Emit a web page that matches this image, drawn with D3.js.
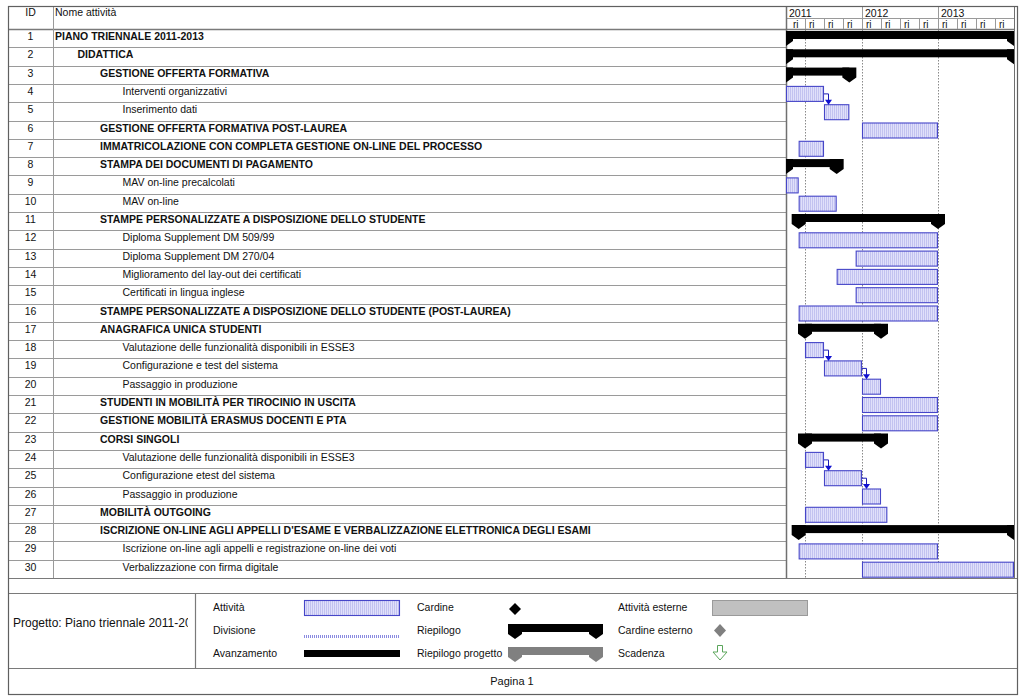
<!DOCTYPE html>
<html><head><meta charset="utf-8">
<script src="https://cdn.jsdelivr.net/npm/d3@7"></script>
<style>
body{margin:0;background:#fff}
svg{display:block}
text{font-family:"Liberation Sans",Arial,sans-serif;fill:#111}
</style>
</head><body>
<svg id="c" width="1024" height="700"></svg>
<script>
// ---------------- DATA ----------------
const taskIds = d3.range(1, 31);
const taskNames = [
  "PIANO TRIENNALE 2011-2013",
  "DIDATTICA",
  "GESTIONE OFFERTA FORMATIVA",
  "Interventi organizzativi",
  "Inserimento dati",
  "GESTIONE OFFERTA FORMATIVA POST-LAUREA",
  "IMMATRICOLAZIONE CON COMPLETA GESTIONE ON-LINE DEL PROCESSO",
  "STAMPA DEI DOCUMENTI DI PAGAMENTO",
  "MAV on-line precalcolati",
  "MAV on-line",
  "STAMPE PERSONALIZZATE A DISPOSIZIONE DELLO STUDENTE",
  "Diploma Supplement DM 509/99",
  "Diploma Supplement DM 270/04",
  "Miglioramento del lay-out dei certificati",
  "Certificati in lingua inglese",
  "STAMPE PERSONALIZZATE A DISPOSIZIONE DELLO STUDENTE (POST-LAUREA)",
  "ANAGRAFICA UNICA STUDENTI",
  "Valutazione delle funzionalità disponibili in ESSE3",
  "Configurazione e test del sistema",
  "Passaggio in produzione",
  "STUDENTI IN MOBILITÀ PER TIROCINIO IN USCITA",
  "GESTIONE MOBILITÀ ERASMUS DOCENTI E PTA",
  "CORSI SINGOLI",
  "Valutazione delle funzionalità disponibili in ESSE3",
  "Configurazione etest del sistema",
  "Passaggio in produzione",
  "MOBILITÀ OUTGOING",
  "ISCRIZIONE ON-LINE AGLI APPELLI D'ESAME E VERBALIZZAZIONE ELETTRONICA DEGLI ESAMI",
  "Iscrizione on-line agli appelli e registrazione on-line dei voti",
  "Verbalizzazione con firma digitale"
];
const taskLevels = [0,1,2,3,3,2,2,2,3,3,2,3,3,3,3,2,2,3,3,3,2,2,2,3,3,3,2,2,3,3];
// S = summary (riepilogo), T = task (attività)
const taskTypes = ["S","S","S","T","T","T","T","S","T","T","S","T","T","T","T","T","S","T","T","T","T","T","S","T","T","T","T","S","T","T"];
// months from January 2011
const taskStart = [0,0,0,0,6,12,2,0,0,2,2,2,11,8,11,2,3,3,6,12,12,12,3,3,6,12,3,2,2,12];
const taskEnd   = [36,36,10,6,10,24,6,8,2,8,24,24,24,24,24,24,15,6,12,15,24,24,15,6,12,15,16,36,24,36];
const links = [[4,5],[18,19],[19,20],[24,25],[25,26]];
const yearLabels = ["2011","2012","2013"];
const yearStartMonths = [0,12,24];
const quarterLabels = ["ri","ri","ri","ri","ri","ri","ri","ri","ri","ri","ri","ri"];
const quarterStartMonths = [0,3,6,9,12,15,18,21,24,27,30,33];
const markerMonths = [3,12,24];

// ---------------- LAYOUT ----------------
const svg = d3.select("#c");
const L = 8, R = 1017, T = 6, B = 694;
const idR = 53, tlL = 786, tlR = 1014;
const headB = 29, tableB = 578, legT = 593, legB = 668;
const lineC = "#9a9a9a", frameC = "#606060";

const x = d3.scaleLinear().domain([0, 36]).range([tlL, tlR]);
const y = d3.scaleBand().domain(taskIds).range([headB, tableB]);
const rh = y.bandwidth();

const defs = svg.append("defs");
const pat = defs.append("pattern").attr("id","hatch").attr("patternUnits","userSpaceOnUse")
  .attr("width",2).attr("height",4);
pat.append("rect").attr("width",2).attr("height",4).attr("fill","#e0e0fa");
pat.append("rect").attr("width",1).attr("height",4).attr("fill","#c2c2f0");
const pd = defs.append("pattern").attr("id","hatchd").attr("patternUnits","userSpaceOnUse").attr("width",2).attr("height",4);
pd.append("rect").attr("width",1).attr("height",4).attr("fill","#8a8ae0");
defs.append("clipPath").attr("id","tlclip").append("rect")
  .attr("x",tlL).attr("y",headB).attr("width",tlR-tlL).attr("height",tableB-headB);
defs.append("clipPath").attr("id","projclip").append("rect")
  .attr("x",L).attr("y",legT).attr("width",188-L).attr("height",legB-legT);

svg.append("rect").attr("width",1024).attr("height",700).attr("fill","#fff");

function hline(x1,x2,yy,c,w){svg.append("line").attr("x1",x1).attr("x2",x2).attr("y1",yy).attr("y2",yy).attr("stroke",c||lineC).attr("stroke-width",w||1);}
function vline(xx,y1,y2,c,w){svg.append("line").attr("x1",xx).attr("x2",xx).attr("y1",y1).attr("y2",y2).attr("stroke",c||lineC).attr("stroke-width",w||1);}

// row lines
taskIds.forEach(id => hline(L, tlL, Math.round(y(id)+rh)+0.5));
hline(L, tlR, headB+0.5, "#7a7a7a", 1.5);
// header year/quarter
hline(tlL, tlR, 18.5);
yearStartMonths.forEach(m => vline(Math.round(x(m))+0.5, T, headB));
quarterStartMonths.forEach(m => vline(Math.round(x(m))+0.5, 18, headB));
vline(idR+0.5, T, tableB);
vline(tlL+0.5, T, tableB, "#707070", 1.5);
vline(tlR+0.5, T, tableB, "#707070", 1);
hline(L, R, tableB+0.5, "#7a7a7a", 1.2);
hline(L, R, legT+0.5, "#7a7a7a", 1.2);
hline(L, R, legB+0.5, "#7a7a7a", 1.2);
vline(195.5, legT, legB, "#7a7a7a", 1.2);
// outer frame
svg.append("rect").attr("x",L+0.5).attr("y",T+0.5).attr("width",R-L).attr("height",B-T)
  .attr("fill","none").attr("stroke",frameC).attr("stroke-width",1.2);

// header text
svg.append("text").attr("x",30.5).attr("y",16).attr("text-anchor","middle").attr("font-size",10.5).text("ID");
svg.append("text").attr("x",55).attr("y",16).attr("font-size",10.5).text("Nome attività");
svg.selectAll(".yl").data(yearLabels).enter().append("text")
  .attr("x",(d,i)=>x(yearStartMonths[i])+3).attr("y",16.5).attr("font-size",10.5).text(d=>d);
svg.selectAll(".ql").data(quarterLabels).enter().append("text")
  .attr("x",(d,i)=>x(quarterStartMonths[i])+(i===0?7:4)).attr("y",27.5).attr("font-size",10).text(d=>d);

// row texts
svg.selectAll(".idt").data(taskIds).enter().append("text")
  .attr("x",30.5).attr("y",d=>y(d)+11).attr("text-anchor","middle").attr("font-size",10.5).text(d=>d);
svg.selectAll(".nt").data(taskIds).enter().append("text")
  .attr("x",d=>55+22.5*taskLevels[d-1]).attr("y",d=>y(d)+11).attr("font-size",10.5)
  .attr("font-weight",d=>taskLevels[d-1]<3?"bold":"normal").text(d=>taskNames[d-1]);

// dotted marker lines
svg.selectAll(".mk").data(markerMonths).enter().append("line")
  .attr("x1",d=>Math.round(x(d))+0.5).attr("x2",d=>Math.round(x(d))+0.5)
  .attr("y1",headB+1).attr("y2",tableB).attr("stroke","#8a8a8a").attr("stroke-dasharray","1.5,1.5");

// bars
const g = svg.append("g").attr("clip-path","url(#tlclip)");
function capPts(cx, top){
  return [[cx-7,top+2],[cx+7,top+2],[cx+7,top+12],[cx,top+17],[cx-7,top+12]].map(p=>p.join(",")).join(" ");
}
function summary(gg, x0, x1, top, col){
  gg.append("rect").attr("x",x0).attr("y",top+2).attr("width",x1-x0).attr("height",8).attr("fill",col);
  gg.append("polygon").attr("points",capPts(x0,top)).attr("fill",col);
  gg.append("polygon").attr("points",capPts(x1,top)).attr("fill",col);
}
taskIds.forEach(id => {
  const i = id-1, top = y(id);
  if (taskTypes[i] === "S") {
    summary(g, x(taskStart[i]), x(taskEnd[i]), top, "#000");
  } else {
    g.append("rect").attr("x",x(taskStart[i])+0.5).attr("y",top+2.5)
      .attr("width",x(taskEnd[i])-x(taskStart[i])-1).attr("height",15)
      .attr("fill","url(#hatch)").attr("stroke","#4646c8").attr("stroke-width",1.1);
  }
});
// dependency links
links.forEach(([a,b]) => {
  const xa = x(taskEnd[a-1]), ya = y(a)+10;
  const xb = xa+4.5, yb = y(b)+2.5;
  g.append("path").attr("d",`M${xa},${ya}H${xb}V${yb-4}`).attr("fill","none")
    .attr("stroke","#1c1cb4").attr("stroke-width",1);
  g.append("polygon").attr("points",`${xb-3.5},${yb-5} ${xb+3.5},${yb-5} ${xb},${yb}`).attr("fill","#1010d0");
});

// ---------------- LEGEND ----------------
svg.append("text").attr("x",13).attr("y",627).attr("font-size",12)
  .attr("clip-path","url(#projclip)").text("Progetto: Piano triennale 2011-2013");
const legLabels1 = ["Attività","Divisione","Avanzamento"];
const legLabels2 = ["Cardine","Riepilogo","Riepilogo progetto"];
const legLabels3 = ["Attività esterne","Cardine esterno","Scadenza"];
const legRowsY = [611, 634, 657];
[[legLabels1,213],[legLabels2,417],[legLabels3,618]].forEach(([labs,lx]) => {
  labs.forEach((t,i)=> svg.append("text").attr("x",lx).attr("y",legRowsY[i]).attr("font-size",10.5).text(t));
});
// col 1 symbols
svg.append("rect").attr("x",304.5).attr("y",600.5).attr("width",95).attr("height",15)
  .attr("fill","url(#hatch)").attr("stroke","#4646c8").attr("stroke-width",1.1);
svg.append("rect").attr("x",304).attr("y",635).attr("width",96).attr("height",3).attr("fill","url(#hatchd)");
svg.append("rect").attr("x",304).attr("y",650).attr("width",96).attr("height",7).attr("fill","#000");
// col 2 symbols
svg.append("polygon").attr("points","515,603 521,609 515,615 509,609").attr("fill","#000");
summary(svg, 515, 596, 622, "#000");
summary(svg, 515, 596, 645, "#808080");
// col 3 symbols
svg.append("rect").attr("x",712.5).attr("y",600.5).attr("width",95).attr("height",15)
  .attr("fill","#c0c0c0").attr("stroke","#9a9a9a");
svg.append("polygon").attr("points","720,624 726,630.5 720,637 714,630.5").attr("fill","#808080");
svg.append("polygon").attr("points","717.5,645.5 722.5,645.5 722.5,652 727,652 720,660 713,652 717.5,652")
  .attr("fill","#fff").attr("stroke","#5aa55a").attr("stroke-width",1);
svg.append("text").attr("x",512).attr("y",685).attr("text-anchor","middle").attr("font-size",11).text("Pagina 1");
</script>
</body></html>
